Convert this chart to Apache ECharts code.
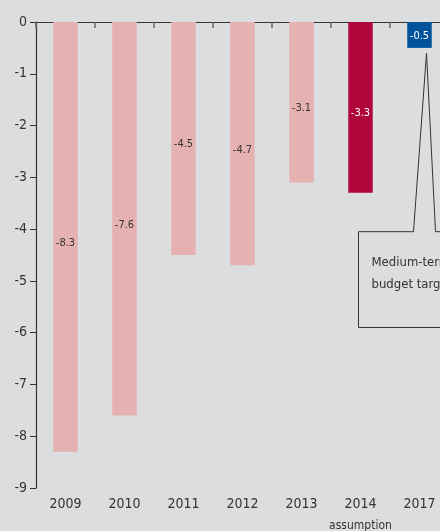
<!DOCTYPE html>
<html>
<head>
<meta charset="utf-8">
<script src="https://cdn.jsdelivr.net/npm/echarts@6/dist/echarts.min.js"></script>
<style>
  html, body { margin: 0; padding: 0; background: #dcdddf; overflow: hidden; }
  /* the plot runs a little past the right edge of the page */
  #wrap { width: 440px; height: 531px; overflow: hidden; }
  #chart { width: 449px; height: 531px; }
</style>
</head>
<body>
<div id="wrap"><div id="chart"></div></div>
<script>
// Budget balance by year (% of GDP)
const years = ['2009', '2010', '2011', '2012', '2013', '2014', '2017'];
const balance = [-8.3, -7.6, -4.5, -4.7, -3.1, -3.3, -0.5];
const barKinds = ['actual', 'actual', 'actual', 'actual', 'actual', 'assumption', 'target'];
const yTicks = [0, -1, -2, -3, -4, -5, -6, -7, -8, -9];
const calloutLines = ['Medium-term', 'budget target'];

const FONT = '"Liberation Sans Narrow", "DejaVu Sans Condensed", "Liberation Sans", sans-serif';
const kindColor = { actual: '#e6b2b1', assumption: '#b0063c', target: '#00539b' };
const kindLabel = { actual: '#333333', assumption: '#ffffff', target: '#ffffff' };

const chart = echarts.init(document.getElementById('chart'), null, { renderer: 'canvas' });

const option = {
  backgroundColor: '#dcdddf',
  animation: false,
  grid: { left: 36, right: 0, top: 22, bottom: 43, outerBoundsMode: 'none', containLabel: false },
  xAxis: [
    {
      type: 'category',
      data: years,
      position: 'bottom',
      axisLine: { show: false, onZero: false },
      axisTick: { show: false },
      axisLabel: {
        color: '#333',
        fontFamily: FONT,
        fontSize: 14,
        margin: 9,
        interval: 0,
        formatter: v => v === '2014' ? v + '\n{s|assumption}' : v,
        rich: { s: { fontSize: 12, fontFamily: FONT, color: '#333', lineHeight: 30 } }
      }
    },
    {
      type: 'category',
      data: years,
      position: 'top',
      axisLine: { show: true, onZero: false, lineStyle: { color: '#333', width: 1.2 } },
      axisTick: { show: true, inside: true, length: 6, lineStyle: { color: '#666', width: 1.5 } },
      axisLabel: { show: false }
    }
  ],
  yAxis: {
    type: 'value',
    min: -9,
    max: 0,
    interval: 1,
    axisLine: { show: true, lineStyle: { color: '#333', width: 1.2 } },
    axisTick: { show: true, length: 6, lineStyle: { color: '#333' } },
    splitLine: { show: false },
    axisLabel: {
      color: '#333',
      fontFamily: FONT,
      fontSize: 14,
      margin: 9,
      customValues: yTicks
    }
  },
  series: [{
    type: 'bar',
    barWidth: 24.5,
    data: balance.map((v, i) => ({
      value: v,
      itemStyle: { color: kindColor[barKinds[i]] },
      label: {
        color: kindLabel[barKinds[i]],
        offset: barKinds[i] === 'target' ? [0, 1] : [0, 6]
      }
    })),
    label: {
      show: true,
      position: 'inside',
      fontFamily: FONT,
      fontSize: 11
    }
  }]
};

chart.setOption(option);

// Callout pointing to the 2017 target bar
function drawCallout() {
  const tip = chart.convertToPixel({ xAxisIndex: 0, yAxisIndex: 0 }, ['2017', -0.6]);
  const top = chart.convertToPixel({ xAxisIndex: 0, yAxisIndex: 0 }, ['2017', -4.05]);
  const bottom = chart.convertToPixel({ xAxisIndex: 0, yAxisIndex: 0 }, ['2017', -5.9]);
  const cx = tip[0] + 7;
  const boxLeft = cx - 68;
  const boxRight = cx + 60;
  const ty = tip[1];
  const by = top[1];
  const bb = bottom[1];
  chart.setOption({
    graphic: [
      {
        type: 'polyline',
        silent: true,
        shape: {
          points: [
            [boxRight, by], [cx + 9, by], [cx, ty], [cx - 13, by],
            [boxLeft, by], [boxLeft, bb], [boxRight, bb]
          ]
        },
        style: { stroke: '#333', lineWidth: 1, fill: null }
      },
      {
        type: 'text',
        silent: true,
        x: boxLeft + 13,
        y: by + 20,
        style: {
          text: calloutLines.join('\n'),
          fontFamily: FONT,
          fontSize: 13,
          lineHeight: 22,
          fill: '#333'
        }
      }
    ]
  });
}
drawCallout();
</script>
</body>
</html>
